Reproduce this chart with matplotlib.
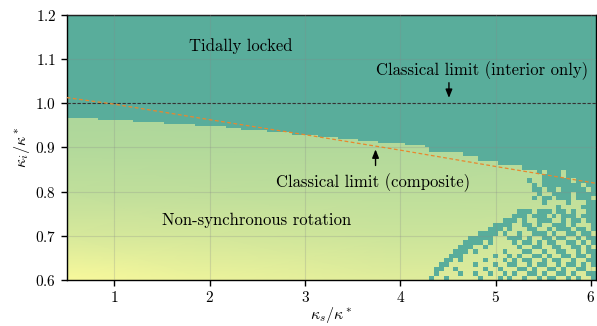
import numpy as np
import matplotlib.pyplot as plt
from matplotlib.colors import LinearSegmentedColormap, ListedColormap

plt.rcParams['font.family'] = 'serif'
plt.rcParams['font.serif'] = ['cmr10']
plt.rcParams['mathtext.fontset'] = 'cm'
plt.rcParams['axes.formatter.use_mathtext'] = True

# upper edge of the non-synchronous region (staircase)
step_x = [0.50, 0.83, 1.20, 1.52, 1.85, 2.17, 2.33, 2.60, 2.86, 3.14, 3.35,
          3.56, 3.77, 4.05, 4.26, 4.30, 6.05]
step_y = [0.967, 0.962, 0.958, 0.953, 0.949, 0.944, 0.939, 0.935, 0.928,
          0.924, 0.919, 0.915, 0.910, 0.906, 0.901, 0.900, 0.900]

# noisy corner, x 4.30 -> 6.05 (34 columns), y 0.90 -> 0.60 (30 rows)
# '#' = tidally locked, '.' = non-synchronous
noise_rows = [
    "##################################",
    ".......###########################",
    "..........########################",
    "..............####################",
    "...................###############",
    "......................#.###.######",
    ".......................####.######",
    "....................#..######.####",
    ".....................#.########.##",
    ".....................##.##.#####.#",
    "......................#..####.####",
    ".....................#.##.###.###.",
    ".......................#....#...##",
    "..........................#....###",
    "..................###.###.##.#..##",
    ".................###.###.#.###.###",
    "...............###.#..###..#.##.##",
    ".............####..##.#..###.#...#",
    "............###.#...##..#.###.##.#",
    "..........####.#..#..###.#..##.##.",
    "........#####...###.#..##.##..#.##",
    ".......####.#....#.##.#.##..##.#.#",
    "......###..#......#..##..##..##.#.",
    ".....###.#.....#...##..#..##..#.##",
    "....###......#..#.#..##.#..##.##.#",
    "...##.#....#...#.#.##..#.##..#..##",
    "..##.....#...#..##..#.##..#.##.#.#",
    ".##..#.....#..#...##.#..##.#..##..",
    ".#....#..#..#..#.#..##.#..##.#..##",
    "#..#......#...#.#..#..#.##..#.#..#",
]

# colour level of the non-synchronous region (0 = green, 1 = yellow)
grad_x = [0.5, 2.0, 4.0, 6.05]
grad_y = [0.6, 0.7, 0.8, 0.9, 1.0]
grad_v = [[1.00, 0.85, 0.70, 0.65],
          [0.60, 0.55, 0.45, 0.45],
          [0.30, 0.28, 0.25, 0.30],
          [0.10, 0.10, 0.10, 0.15],
          [0.00, 0.00, 0.00, 0.00]]

# classical limit (composite), orange dashed
comp_x = [0.5, 1.0, 2.0, 3.0, 4.0, 5.0, 6.05]
comp_y = [1.013, 0.998, 0.963, 0.929, 0.894, 0.857, 0.819]

teal = '#59ad9b'
green_yellow = LinearSegmentedColormap.from_list(
    'gy', ['#abd69b', '#cfe59b', '#f9f99b'])

fig = plt.figure(figsize=(5.97, 3.26), dpi=100)
ax = fig.add_axes([0.1117, 0.1411, 0.8862, 0.8129])

ax.pcolormesh(grad_x, grad_y, np.array(grad_v), shading='gouraud',
              cmap=green_yellow, vmin=0, vmax=1, zorder=0.5)
ax.fill_between(step_x, step_y, 1.2, step='post', color=teal, lw=0, zorder=1)

locked = np.array([[ch == '#' for ch in row.ljust(34, '#')[:34]]
                   for row in noise_rows])
nx_edges = np.linspace(4.30, 6.05, 35)
ny_edges = np.linspace(0.90, 0.60, 31)
ax.pcolormesh(nx_edges, ny_edges, np.ma.masked_where(~locked, locked.astype(float)),
              cmap=ListedColormap([teal]), vmin=0, vmax=1, zorder=1)

ax.axhline(1.0, color='#333333', ls='--', lw=0.8, dashes=(3, 1.5), zorder=3)
ax.plot(comp_x, comp_y, color='#e8872e', ls='--', lw=0.9, dashes=(3, 2), zorder=3)

ax.grid(True, color='#888888', alpha=0.25, lw=0.8)
ax.set_axisbelow(False)

ax.text(2.33, 1.13, 'Tidally locked', ha='center', va='center', fontsize=12)
ax.text(4.86, 1.075, 'Classical limit (interior only)', ha='center', va='center', fontsize=12)
ax.text(3.71, 0.82, 'Classical limit (composite)', ha='center', va='center', fontsize=12)
ax.text(2.49, 0.734, 'Non-synchronous rotation', ha='center', va='center', fontsize=12)
arrow = dict(arrowstyle='-|>,head_width=0.2,head_length=0.5', color='black', lw=1)
ax.annotate('', xy=(4.51, 1.006), xytext=(4.51, 1.053), arrowprops=arrow)
ax.annotate('', xy=(3.74, 0.902), xytext=(3.74, 0.853), arrowprops=arrow)

ax.set_xlim(0.5, 6.05)
ax.set_ylim(0.6, 1.2)
ax.set_xticks([1, 2, 3, 4, 5, 6])
ax.set_yticks([0.6, 0.7, 0.8, 0.9, 1.0, 1.1, 1.2])
ax.tick_params(direction='out', length=4, width=1, labelsize=11)
ax.set_xlabel(r'$\kappa_s/\kappa^*$', fontsize=11.5, labelpad=0)
ax.set_ylabel(r'$\kappa_i/\kappa^*$', fontsize=11.5, labelpad=2)
for s in ax.spines.values():
    s.set_linewidth(1)

fig.savefig('out.png', dpi=100)
